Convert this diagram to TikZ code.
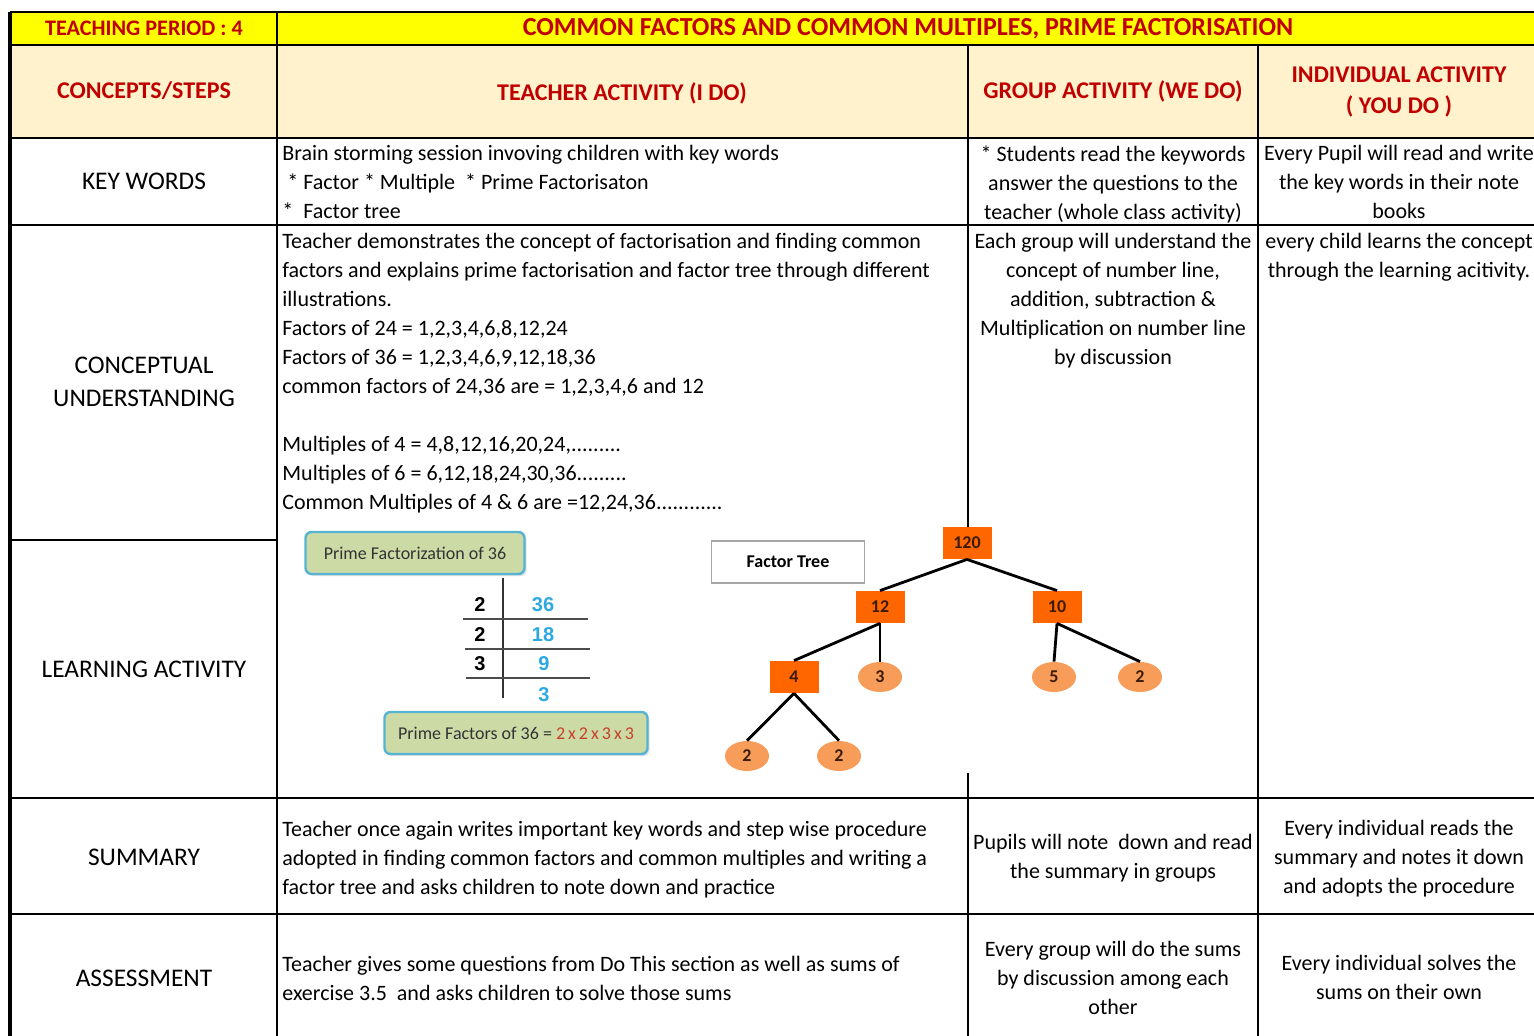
\documentclass[tikz,border=0pt]{standalone}
\usepackage{fontspec}
\setmainfont{Carlito}
\newfontfamily\digitfont{Liberation Sans}
\usetikzlibrary{shapes,shadows}
\definecolor{hdryellow}{HTML}{FFFF00}
\definecolor{hdrcream}{HTML}{FFF2CC}
\definecolor{hdrred}{HTML}{C00000}
\definecolor{pfgreen}{HTML}{CCDBA6}
\definecolor{pfblue}{HTML}{55B4D4}
\definecolor{pfdigit}{HTML}{2EA8E2}
\definecolor{pfred}{HTML}{C8402C}
\definecolor{pftext}{HTML}{333333}
\definecolor{treeor}{HTML}{FF6600}
\definecolor{leafor}{HTML}{F89C5A}
\definecolor{treetext}{HTML}{3A1C05}

\begin{document}
\begin{tikzpicture}[x=0.5pt,y=-0.5pt,
    txt/.style={inner sep=0pt,font=\fontsize{11}{14.5}\selectfont,execute at begin node=\strut},
    lcell/.style={txt,anchor=north west,align=left},
    ccell/.style={txt,anchor=north,align=center},
    rowlab/.style={inner sep=0pt,font=\fontsize{12.7}{16.5}\selectfont,align=center},
    hdr/.style={inner sep=0pt,font=\fontsize{12}{15.5}\selectfont\bfseries,text=hdrred,align=center},
    tabline/.style={line width=1pt},
    pfbox/.style={draw=pfblue,line width=1.2pt,fill=pfgreen,rounded corners=3pt,minimum height=21pt,
        drop shadow={shadow xshift=1pt,shadow yshift=-1pt,opacity=0.25},font=\fontsize{9}{10}\selectfont,text=pftext},
    pfnum/.style={inner sep=0pt,font=\digitfont\fontsize{10}{11}\selectfont\bfseries},
    sq/.style={fill=treeor,minimum width=24.5pt,minimum height=16pt,inner sep=0pt,
        font=\fontsize{9}{10}\selectfont\bfseries,text=treetext},
    leaf/.style={ellipse,fill=leafor,minimum width=22pt,minimum height=15pt,inner sep=0pt,
        font=\fontsize{9}{10}\selectfont\bfseries,text=treetext},
    branch/.style={line width=1.4pt}]

    \useasboundingbox (0,0) rectangle (1534,1036);
    \clip (0,0) rectangle (1534,1036);

    % header bands
    \fill[hdryellow] (10,12) rectangle (1534,45);
    \fill[hdrcream] (10,45) rectangle (1534,138);

    % table rules
    \draw[tabline] (10,12) -- (1534,12) (10,45) -- (1534,45) (10,138) -- (1534,138)
        (10,225) -- (1534,225) (10,540) -- (277,540) (10,798) -- (1534,798) (10,914) -- (1534,914);
    \draw[line width=1.6pt] (10,12) -- (10,1036);
    \draw[tabline] (277,12) -- (277,1036) (1258,45) -- (1258,1036)
        (968,45) -- (968,527) (968,773) -- (968,1036);

    % header texts
    \node[hdr,font=\fontsize{11.1}{12}\selectfont\bfseries] (period) at (144,28) {TEACHING PERIOD : 4};
    \node[hdr,font=\fontsize{13}{14}\selectfont\bfseries] (title) at (908,29) {COMMON FACTORS AND COMMON MULTIPLES, PRIME FACTORISATION};
    \node[hdr] (hconcept) at (144,91) {CONCEPTS/STEPS};
    \node[hdr] (hteacher) at (622,93) {TEACHER ACTIVITY (I DO)};
    \node[hdr] (hgroup) at (1113,91) {GROUP ACTIVITY (WE DO)};
    \node[hdr] (hindiv) at (1399,92) {INDIVIDUAL ACTIVITY\\( YOU DO )};

    % row labels
    \node[rowlab] (lkey) at (144,181) {KEY WORDS};
    \node[rowlab] (lconcept) at (144,382) {CONCEPTUAL\\UNDERSTANDING};
    \node[rowlab] (llearn) at (144,669) {LEARNING ACTIVITY};
    \node[rowlab] (lsummary) at (144,857) {SUMMARY};
    \node[rowlab] (lassess) at (144,978) {ASSESSMENT};

    % key words row
    \node[lcell] (keyT) at (282,145) {Brain storming session invoving children with key words\\
        \ * Factor * Multiple \ * Prime Factorisaton\\
        * \ Factor tree};
    \node[ccell] (keyG) at (1113,145) {* Students read the keywords\\answer the questions to the\\teacher (whole class activity)};
    \node[ccell] (keyI) at (1399,145) {Every Pupil will read and write\\the key words in their note\\books};

    % conceptual understanding row
    \node[lcell] (conT) at (282,233) {Teacher demonstrates the concept of factorisation and finding common\\
        factors and explains prime factorisation and factor tree through different\\
        illustrations.\\
        Factors of 24 = 1,2,3,4,6,8,12,24\\
        Factors of 36 = 1,2,3,4,6,9,12,18,36\\
        common factors of 24,36 are = 1,2,3,4,6 and 12\\[14.5pt]
        Multiples of 4 = 4,8,12,16,20,24,.........\\
        Multiples of 6 = 6,12,18,24,30,36.........\\
        Common Multiples of 4 \& 6 are =12,24,36............};
    \node[ccell] (conG) at (1113,233) {Each group will understand the\\concept of number line,\\addition, subtraction \&\\Multiplication on number line\\by discussion};
    \node[ccell] (conI) at (1399,233) {every child learns the concept\\through the learning acitivity.};

    % learning activity: prime factorisation
    \node[pfbox,minimum width=109.5pt] (pfhead) at (415,553) {Prime Factorization of 36};
    \draw[line width=0.8pt,black!80] (503,578) -- (503,698);
    \draw[line width=0.8pt,black!70] (463,619) -- (588,619) (465,649) -- (590,649) (466,678) -- (590,678);
    \node[pfnum] (pd1) at (480,605) {2};
    \node[pfnum,text=pfdigit] (pq1) at (543,605) {36};
    \node[pfnum] (pd2) at (480,635) {2};
    \node[pfnum,text=pfdigit] (pq2) at (543,635) {18};
    \node[pfnum] (pd3) at (480,664) {3};
    \node[pfnum,text=pfdigit] (pq3) at (544,664) {9};
    \node[pfnum,text=pfdigit] (pq4) at (544,695) {3};
    \node[pfbox,minimum width=131.5pt] (pfres) at (516,733) {Prime Factors of 36 = \textcolor{pfred}{2\,x\,2\,x\,3\,x\,3}};

    % learning activity: factor tree
    \node[draw=black!35,line width=0.8pt,minimum width=76.5pt,minimum height=21pt,inner sep=0pt,
        font=\fontsize{9}{10}\selectfont\bfseries] (ftlabel) at (788,562) {Factor Tree};
    \node[sq] (n120) at (967,543) {120};
    \node[sq] (n12) at (880,607) {12};
    \node[sq] (n10) at (1057,607) {10};
    \node[sq] (n4) at (794,677) {4};
    \node[leaf] (l3) at (880,677) {3};
    \node[leaf] (l5) at (1054,677) {5};
    \node[leaf] (l2a) at (1140,677) {2};
    \node[leaf] (l2b) at (747,756) {2};
    \node[leaf] (l2c) at (839,756) {2};
    \draw[branch] (n120.south) -- (n12.north);
    \draw[branch] (n120.south) -- (n10.north);
    \draw[branch] (n12.south) -- (n4.north);
    \draw[branch] (n12.south) -- (l3.north);
    \draw[branch] (n10.south) -- (l5.north);
    \draw[branch] (n10.south) -- (l2a.north);
    \draw[branch] (n4.south) -- (l2b.north);
    \draw[branch] (n4.south) -- (l2c.north);

    % summary row
    \node[lcell] (sumT) at (282,821) {Teacher once again writes important key words and step wise procedure\\
        adopted in finding common factors and common multiples and writing a\\
        factor tree and asks children to note down and practice};
    \node[ccell] (sumG) at (1113,834) {Pupils will note \ down and read\\the summary in groups};
    \node[ccell] (sumI) at (1399,820) {Every individual reads the\\summary and notes it down\\and adopts the procedure};

    % assessment row
    \node[lcell] (assT) at (282,956) {Teacher gives some questions from Do This section as well as sums of\\
        exercise 3.5 \ and asks children to solve those sums};
    \node[ccell] (assG) at (1113,941) {Every group will do the sums\\by discussion among each\\other};
    \node[ccell] (assI) at (1399,955) {Every individual solves the\\sums on their own};
\end{tikzpicture}
\end{document}
